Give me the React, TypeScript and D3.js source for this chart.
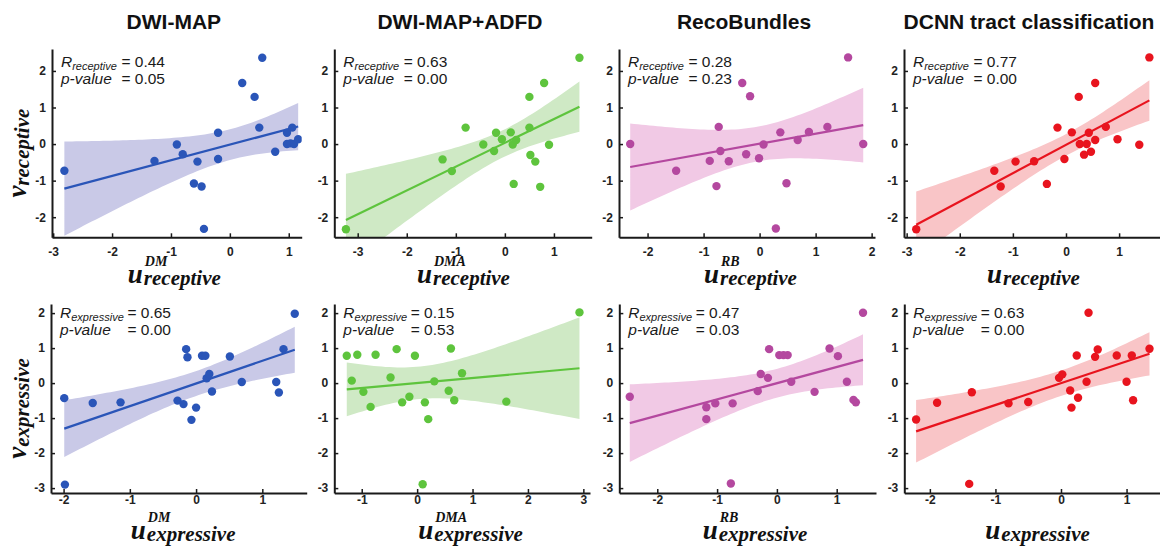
import React, { useEffect, useRef } from 'react';
import * as d3 from 'd3';

// panel titles (one per column)
const titles = ['DWI-MAP', 'DWI-MAP+ADFD', 'RecoBundles', 'DCNN tract classification'];
const methodSup = ['DM', 'DMA', 'RB', ''];
const rowNames = ['receptive', 'expressive'];

// receptive scores (top row)
const dmRecU = [-2.81, -1.28, -0.9, -0.8, -0.55, -0.61, -0.48, -0.44, -0.2, -0.2, 0.21, 0.42, 0.55, 0.5, 0.77, 0.97, 0.97, 1.03, 1.06, 1.09, 1.16];
const dmRecV = [-0.73, -0.46, -0.01, -0.28, -0.48, -1.08, -1.16, -2.32, 0.31, -0.41, 1.67, 1.29, 2.36, 0.45, -0.21, 0.31, 0.0, 0.02, 0.45, 0.0, 0.13];
const dmaRecU = [-3.24, -1.27, -1.08, -0.8, -0.44, -0.22, -0.18, -0.06, 0.12, 0.16, 0.18, 0.23, 0.5, 0.5, 0.52, 0.62, 0.72, 0.8, 0.9, 1.52];
const dmaRecV = [-2.33, -0.42, -0.74, 0.45, -0.01, -0.19, 0.31, 0.13, 0.32, -0.01, -1.09, 0.11, 1.29, 0.45, -0.3, -0.48, -1.17, 1.67, -0.02, 2.36];
const rbRecU = [-2.31, -1.49, -0.89, -0.77, -0.73, -0.7, -0.55, -0.31, -0.24, -0.17, -0.01, 0.07, 0.29, 0.37, 0.48, 0.68, 0.88, 1.21, 1.58, 1.85];
const rbRecV = [0.0, -0.73, -0.46, -1.15, 0.47, -0.19, -0.47, 1.67, -0.28, 1.31, -0.39, -0.01, -2.31, 0.32, -1.07, 0.11, 0.33, 0.47, 2.37, 0.0];
const dcnnRecU = [-2.82, -1.35, -1.23, -0.95, -0.6, -0.36, -0.16, -0.03, 0.11, 0.24, 0.26, 0.34, 0.39, 0.43, 0.47, 0.55, 0.55, 0.75, 0.97, 1.38, 1.57];
const dcnnRecV = [-2.33, -0.73, -1.16, -0.48, -0.47, -1.09, 0.45, -0.41, 0.32, 1.29, 0.0, -0.29, 0.0, 0.31, -0.21, 1.67, 0.11, 0.47, 0.13, -0.02, 2.37];

// expressive scores (bottom row)
const dmExpU = [-1.99, -1.98, -1.56, -1.14, -0.28, -0.19, -0.15, -0.13, -0.07, 0.0, 0.09, 0.14, 0.16, 0.2, 0.24, 0.51, 0.69, 1.21, 1.25, 1.32, 1.49];
const dmExpV = [-0.43, -2.9, -0.57, -0.55, -0.5, -0.6, 0.97, 0.74, -1.05, -0.7, 0.78, 0.78, 0.14, 0.26, -0.24, 0.76, 0.03, 0.03, -0.27, 0.97, 1.98];
const dmaExpU = [-1.27, -1.18, -1.08, -0.97, -0.84, -0.75, -0.48, -0.37, -0.27, -0.14, -0.04, 0.1, 0.14, 0.2, 0.31, 0.57, 0.61, 0.67, 0.81, 1.61, 2.93];
const dmaExpV = [0.78, 0.07, 0.81, -0.25, -0.68, 0.81, 0.16, 0.97, -0.55, -0.39, 0.78, -2.89, -0.55, -1.03, 0.05, -0.22, 0.99, -0.49, 0.28, -0.53, 2.02];
const rbExpU = [-2.46, -1.18, -1.18, -1.03, -0.77, -0.74, -0.32, -0.27, -0.15, -0.13, 0.04, 0.11, 0.18, 0.24, 0.63, 0.88, 1.02, 1.17, 1.28, 1.32, 1.44];
const rbExpV = [-0.39, -0.69, -1.03, -0.58, -2.87, -0.58, -0.23, 0.26, 0.15, 0.97, 0.8, 0.8, 0.8, 0.04, -0.25, 0.99, 0.77, 0.04, -0.48, -0.55, 2.01];
const dcnnExpU = [-2.21, -1.89, -1.4, -1.36, -0.8, -0.5, -0.03, 0.02, 0.14, 0.16, 0.24, 0.26, 0.39, 0.42, 0.52, 0.56, 0.85, 1.0, 1.08, 1.1, 1.35];
const dcnnExpV = [-1.04, -0.56, -2.88, -0.26, -0.58, -0.54, 0.15, 0.25, -0.21, -0.7, 0.79, -0.42, 0.04, 2.01, 0.75, 0.96, 0.79, 0.04, 0.79, -0.49, 0.98];

// reported statistics
const rValues = ['0.44', '0.63', '0.28', '0.77', '0.65', '0.15', '0.47', '0.63'];
const pValues = ['0.05', '0.00', '0.23', '0.00', '0.00', '0.53', '0.03', '0.00'];

const lineColors = ['#2a55b8', '#5ec43d', '#b4489f', '#e8141e'];
const bandColors = ['#c9c9e7', '#cfe9c5', '#f1c9e5', '#f9c5c7'];

const W = 1160;
const H = 546;

// layout of each row and each panel
const rows = [
  { top: 49, bottom: 237.3, yDomain: [-2.55, 2.6], yTicks: [-2, -1, 0, 1, 2], tickPad: 10.5, annY: 66.7 },
  { top: 304, bottom: 493, yDomain: [-3.14, 2.26], yTicks: [-3, -2, -1, 0, 1, 2], tickPad: 2.5, annY: 317.5 },
];
const panelBoxes = [
  { left: 52, right: 301.7, xDomain: [-3.02, 1.22], xTicks: [-3, -2, -1, 0, 1], labelShift: -34 },
  { left: 334.3, right: 591.7, xDomain: [-3.477, 1.77], xTicks: [-3, -2, -1, 0, 1], labelShift: -31 },
  { left: 619, right: 875, xDomain: [-2.51, 2.06], xTicks: [-2, -1, 0, 1, 2], labelShift: -28 },
  { left: 904, right: 1160, xDomain: [-3.05, 1.77], xTicks: [-3, -2, -1, 0, 1], labelShift: -30 },
  { left: 51, right: 306.7, xDomain: [-2.19, 1.67], xTicks: [-2, -1, 0, 1], labelShift: -33 },
  { left: 334.3, right: 590, xDomain: [-1.495, 3.12], xTicks: [-1, 0, 1, 2, 3], labelShift: -29 },
  { left: 619.3, right: 876, xDomain: [-2.635, 1.657], xTicks: [-2, -1, 0, 1], labelShift: -30 },
  { left: 904.3, right: 1160, xDomain: [-2.39, 1.51], xTicks: [-2, -1, 0, 1], labelShift: -32 },
];

const series = [
  [dmRecU, dmRecV], [dmaRecU, dmaRecV], [rbRecU, rbRecV], [dcnnRecU, dcnnRecV],
  [dmExpU, dmExpV], [dmaExpU, dmaExpV], [rbExpU, rbExpV], [dcnnExpU, dcnnExpV],
];

// 97.5% quantile of Student's t (Cornish-Fisher expansion)
function tCrit(df: number) {
  const z = 1.959964;
  const g1 = (z ** 3 + z) / 4;
  const g2 = (5 * z ** 5 + 16 * z ** 3 + 3 * z) / 96;
  const g3 = (3 * z ** 7 + 19 * z ** 5 + 17 * z ** 3 - 15 * z) / 384;
  return z + g1 / df + g2 / df ** 2 + g3 / df ** 3;
}

function fit(u: number[], v: number[]) {
  const n = u.length;
  const mx = d3.mean(u) as number;
  const my = d3.mean(v) as number;
  const sxx = d3.sum(u, (x) => (x - mx) ** 2);
  const sxy = d3.sum(u, (x, i) => (x - mx) * (v[i] - my));
  const b = sxy / sxx;
  const a = my - b * mx;
  const sse = d3.sum(u, (x, i) => (v[i] - a - b * x) ** 2);
  const s = Math.sqrt(sse / (n - 2));
  const t = tCrit(n - 2);
  return { a, b, s, mx, sxx, n, t };
}

const SANS = '"Liberation Sans", Arial, sans-serif';
const SERIF = '"Liberation Serif", "Times New Roman", serif';

export default function App() {
  const ref = useRef<SVGSVGElement>(null);

  useEffect(() => {
    const svg = d3.select(ref.current);
    svg.selectAll('*').remove();

    // column titles
    titles.forEach((t, c) => {
      const box = panelBoxes[c];
      svg.append('text')
        .attr('x', (box.left + box.right) / 2 - 3)
        .attr('y', 29)
        .attr('text-anchor', 'middle')
        .attr('font-family', SANS)
        .attr('font-weight', 'bold')
        .attr('font-size', 21)
        .attr('fill', '#111')
        .text(t);
    });

    series.forEach(([u, v], i) => {
      const row = rows[Math.floor(i / 4)];
      const col = i % 4;
      const box = panelBoxes[i];
      const rowName = rowNames[Math.floor(i / 4)];

      const x = d3.scaleLinear().domain(box.xDomain).range([box.left, box.right]);
      const y = d3.scaleLinear().domain(row.yDomain).range([row.bottom, row.top]);

      const g = svg.append('g');
      const clipId = `clip${i}`;
      g.append('clipPath').attr('id', clipId)
        .append('rect')
        .attr('x', box.left).attr('y', row.top)
        .attr('width', box.right - box.left).attr('height', row.bottom - row.top);

      // regression line and 95% confidence band
      const f = fit(u, v);
      const [x0, x1] = d3.extent(u) as [number, number];
      const xs = d3.range(0, 61).map((k) => x0 + (x1 - x0) * k / 60);
      const half = (xv: number) => f.t * f.s * Math.sqrt(1 / f.n + (xv - f.mx) ** 2 / f.sxx);
      const band = d3.area<number>()
        .x((xv) => x(xv))
        .y0((xv) => y(f.a + f.b * xv - half(xv)))
        .y1((xv) => y(f.a + f.b * xv + half(xv)));
      const plot = g.append('g').attr('clip-path', `url(#${clipId})`);
      plot.append('path').attr('d', band(xs)).attr('fill', bandColors[col]).attr('stroke', 'none');
      plot.append('line')
        .attr('x1', x(x0)).attr('y1', y(f.a + f.b * x0))
        .attr('x2', x(x1)).attr('y2', y(f.a + f.b * x1))
        .attr('stroke', lineColors[col]).attr('stroke-width', 2.2);

      // points
      plot.selectAll('circle.dot')
        .data(u)
        .enter()
        .append('circle')
        .attr('class', 'dot')
        .attr('cx', (d) => x(d))
        .attr('cy', (d, k) => y(v[k]))
        .attr('r', 4.2)
        .attr('fill', lineColors[col]);

      // axes
      const xAxis = d3.axisBottom(x).tickValues(box.xTicks).tickSizeInner(-4).tickSizeOuter(0)
        .tickPadding(row.tickPad).tickFormat(d3.format('d'));
      const yAxis = d3.axisLeft(y).tickValues(row.yTicks).tickSizeInner(-4).tickSizeOuter(0)
        .tickPadding(6).tickFormat(d3.format('d'));

      [
        g.append('g').attr('transform', `translate(0,${row.bottom})`).call(xAxis),
        g.append('g').attr('transform', `translate(${box.left},0)`).call(yAxis),
      ].forEach((ax) => {
        ax.select('.domain').attr('stroke', '#1a1a1a').attr('stroke-width', 2);
        ax.selectAll('.tick line').attr('stroke', '#1a1a1a').attr('stroke-width', 1.5);
        ax.selectAll('.tick text')
          .attr('font-family', SANS)
          .attr('font-weight', 'bold')
          .attr('font-size', 12)
          .attr('fill', '#222')
          .text((d: any) => String(d));
      });

      // statistics annotation
      const ax0 = box.left + 9;
      const endX = ax0 + (i < 4 ? 104 : 111);
      const r = g.append('text')
        .attr('x', ax0).attr('y', row.annY)
        .attr('font-family', SANS).attr('font-size', 15.5).attr('fill', '#1a1a1a');
      r.append('tspan').attr('font-style', 'italic').text('R');
      r.append('tspan').attr('font-style', 'italic').attr('font-size', 11).attr('dy', 3).text(rowName);
      g.append('text')
        .attr('x', endX).attr('y', row.annY)
        .attr('text-anchor', 'end')
        .attr('font-family', SANS).attr('font-size', 15.5).attr('fill', '#1a1a1a')
        .text(`= ${rValues[i]}`);
      g.append('text')
        .attr('x', ax0).attr('y', row.annY + 17)
        .attr('font-family', SANS).attr('font-size', 15.5).attr('font-style', 'italic').attr('fill', '#1a1a1a')
        .text('p-value');
      g.append('text')
        .attr('x', endX).attr('y', row.annY + 17)
        .attr('text-anchor', 'end')
        .attr('font-family', SANS).attr('font-size', 15.5).attr('fill', '#1a1a1a')
        .text(`= ${pValues[i]}`);

      // x-axis label: u with superscript method and subscript score, one text element
      const lx = (box.left + box.right) / 2 + box.labelShift;
      const ly = row.bottom + 45.5;
      const xl = g.append('text')
        .attr('x', lx - 15).attr('y', ly)
        .attr('font-family', SERIF).attr('font-weight', 'bold').attr('font-style', 'italic')
        .attr('fill', '#111');
      xl.append('tspan').attr('font-size', 27).text('u');
      if (methodSup[col]) {
        xl.append('tspan').attr('x', lx + 2).attr('y', ly - 17).attr('font-size', 14).text(methodSup[col]);
      }
      xl.append('tspan').attr('x', lx + 1).attr('y', ly + 2).attr('font-size', 21).text(rowName);

      // y-axis label on the first column
      if (col === 0) {
        const yl = svg.append('text')
          .attr('transform', `translate(26,${(row.top + row.bottom) / 2 + 10}) rotate(-90)`)
          .attr('text-anchor', 'middle')
          .attr('font-family', SERIF).attr('font-weight', 'bold').attr('font-style', 'italic')
          .attr('fill', '#111');
        yl.append('tspan').attr('font-size', 27).text('v');
        yl.append('tspan').attr('font-size', 21).attr('dy', 3).text(rowName);
      }
    });
  }, []);

  return (
    <svg
      ref={ref}
      width={W}
      height={H}
      style={{ position: 'absolute', left: 0, top: 0, background: '#fff' }}
    />
  );
}
